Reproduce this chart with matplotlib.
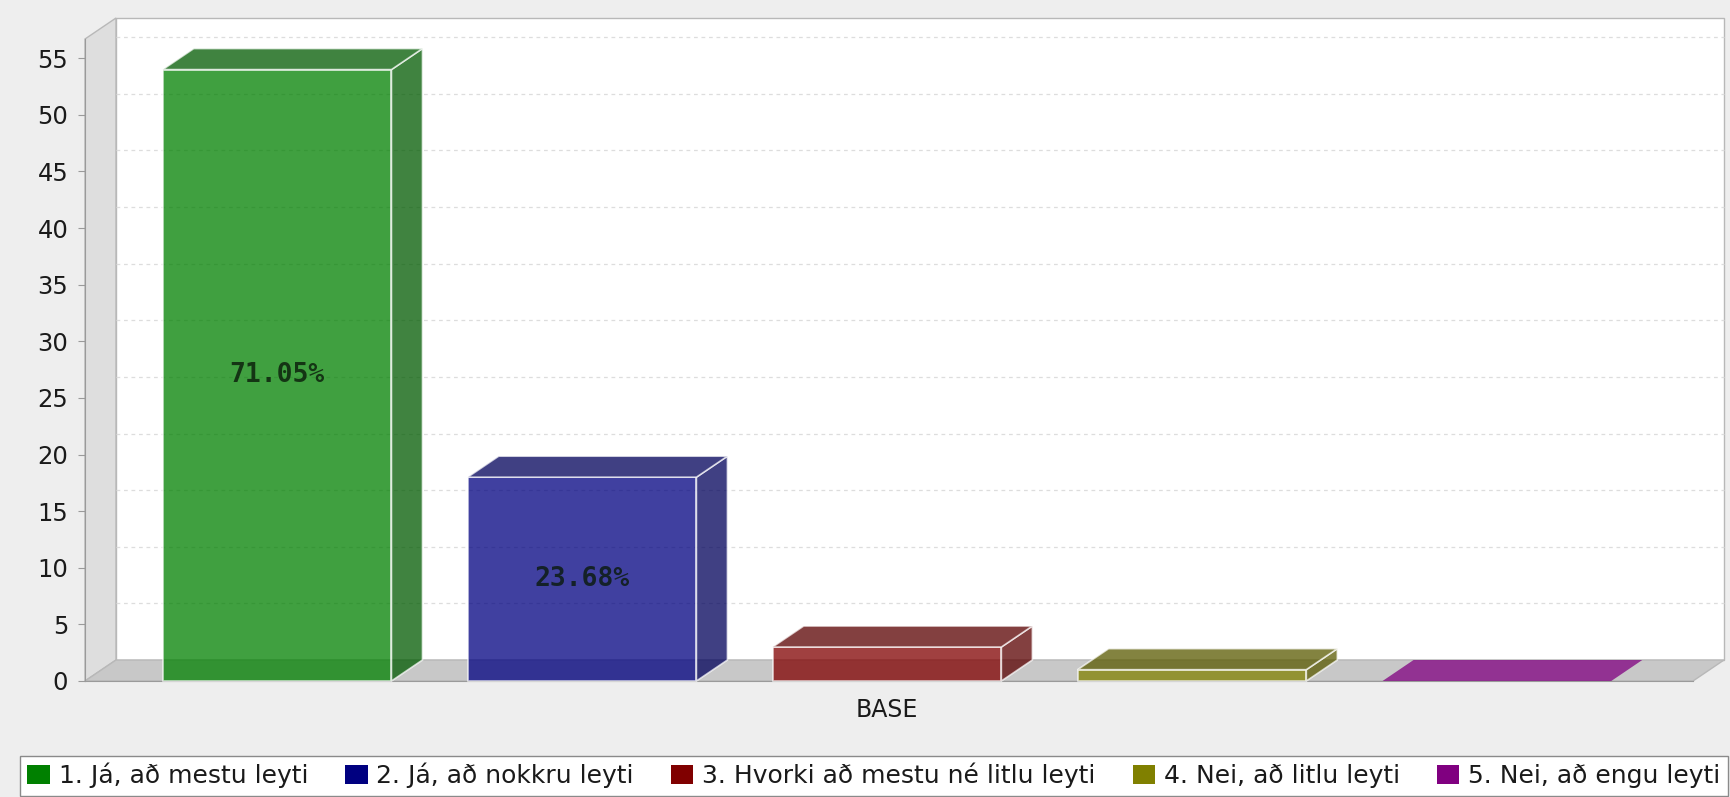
import matplotlib.pyplot as plt
from matplotlib.patches import Polygon, Rectangle, Patch

categories = ['1. Já, að mestu leyti', '2. Já, að nokkru leyti',
              '3. Hvorki að mestu né litlu leyti', '4. Nei, að litlu leyti',
              '5. Nei, að engu leyti']
values = [54, 18, 3, 1, 0]
colors = ['#008000', '#000080', '#800000', '#808000', '#800080']
group_label = 'BASE'
yticks = list(range(0, 56, 5))

W, H = 1731, 797
fig = plt.figure(figsize=(W / 100, H / 100), dpi=100, facecolor='#eeeeee')
ax = fig.add_axes([85 / W, (H - 681) / H, (1693 - 85) / W, (681 - 39) / H])
ax.patch.set_visible(False)

x0, x1 = -0.63, 4.643
ymax = max(values) * 1.05
ax.set_xlim(x0, x1)
ax.set_ylim(0, ymax)

# depth of the 3d effect, in pixels, converted to data units
dx_px, dy_px = 31, 21
ax_w = (1693 - 85)
ax_h = (681 - 39)
ddx = dx_px * (x1 - x0) / ax_w
ddy = dy_px * ymax / ax_h

# walls
ax.add_patch(Rectangle((x0 + ddx, ddy), x1 - x0, ymax, facecolor='white',
                       edgecolor='#b8b8b8', lw=1, clip_on=False, zorder=0))
ax.add_patch(Polygon([(x0, 0), (x0 + ddx, ddy), (x0 + ddx, ymax + ddy), (x0, ymax)],
                     facecolor='#dedede', edgecolor='#b8b8b8', lw=1, clip_on=False, zorder=0))
ax.add_patch(Polygon([(x0, 0), (x1, 0), (x1 + ddx, ddy), (x0 + ddx, ddy)],
                     facecolor='#c8c8c8', edgecolor='#b8b8b8', lw=1, clip_on=False, zorder=0))
for v in yticks[1:]:
    ax.plot([x0 + ddx, x1 + ddx], [v + ddy, v + ddy], color='#dddddd',
            ls=(0, (3, 3)), lw=0.9, clip_on=False, zorder=0.5)

def darker(c, f=0.7):
    r, g, b = [int(c[i:i + 2], 16) / 255 for i in (1, 3, 5)]
    return (r * f, g * f, b * f)

w = 0.75
total = sum(values)
edge = (1, 1, 1, 0.7)
for i, (v, c) in enumerate(zip(values, colors)):
    l, r = i - w / 2, i + w / 2
    front = plt.matplotlib.colors.to_rgba(c, 0.75)
    dark = darker(c) + (0.75,)
    if v > 0:
        ax.add_patch(Polygon([(l, 0), (r, 0), (r, v), (l, v)], facecolor=front,
                             edgecolor=edge, lw=1.2, clip_on=False, zorder=2))
        ax.add_patch(Polygon([(r, 0), (r + ddx, ddy), (r + ddx, v + ddy), (r, v)],
                             facecolor=dark, edgecolor=edge, lw=1.2, clip_on=False, zorder=2))
        ax.add_patch(Polygon([(l, v), (r, v), (r + ddx, v + ddy), (l + ddx, v + ddy)],
                             facecolor=dark, edgecolor=edge, lw=1.2, clip_on=False, zorder=2))
    else:
        ax.add_patch(Polygon([(l, 0), (r, 0), (r + ddx, ddy), (l + ddx, ddy)],
                             facecolor=front, edgecolor='none', clip_on=False, zorder=2))
    pct = v / total * 100
    if pct > 10:
        ax.text(i, v / 2, '%.2f%%' % pct, ha='center', va='center',
                family='DejaVu Sans Mono', weight='bold', fontsize=19,
                color='#0a1a0a', alpha=0.8, zorder=3)

for s in ['top', 'right']:
    ax.spines[s].set_visible(False)
for s in ['left', 'bottom']:
    ax.spines[s].set_color('#9a9a9a')
    ax.spines[s].set_zorder(1)

ax.set_yticks(yticks)
ax.tick_params(axis='y', length=5, color='#9a9a9a', labelsize=17.5, labelcolor='#1a1a1a', pad=7)
ax.set_xticks([(len(values) - 1) / 2])
ax.set_xticklabels([group_label])
ax.tick_params(axis='x', length=0, labelsize=17, labelcolor='#1a1a1a', pad=12)

handles = [Patch(facecolor=c, edgecolor='none') for c in colors]
leg = fig.legend(handles, categories, loc='lower left', ncol=5,
                 bbox_to_anchor=(20 / W, 1 / H, (1728 - 20) / W, 42 / H), mode='expand',
                 fontsize=18, frameon=True, fancybox=False, handlelength=0.9,
                 handleheight=0.8, handletextpad=0.35, borderpad=0.3, borderaxespad=0,
                 columnspacing=0.6)
leg.get_frame().set_edgecolor('#8a8a8a')
leg.get_frame().set_linewidth(1)
leg.get_frame().set_alpha(1)
for t in leg.get_texts():
    t.set_color('#1a1a1a')

fig.savefig('out.png', dpi=100, facecolor=fig.get_facecolor())
